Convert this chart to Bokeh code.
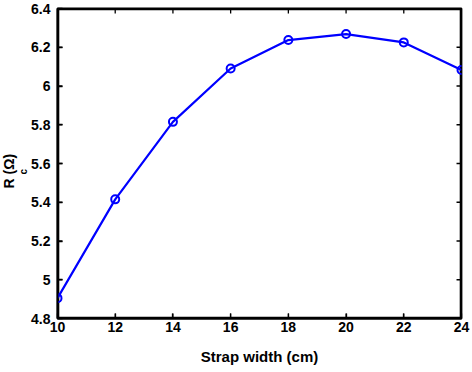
import math
from bokeh.plotting import figure
from bokeh.models import DataRange1d, LinearAxis, FixedTicker, Title
from bokeh.embed import file_html
from bokeh.resources import INLINE

# ---- data ----
strap_width = [10, 12, 14, 16, 18, 20, 22, 24]
rc_ohm = [4.905, 5.415, 5.815, 6.09, 6.237, 6.268, 6.225, 6.083]
x_ticks = [10, 12, 14, 16, 18, 20, 22, 24]
y_ticks = [4.8, 5.0, 5.2, 5.4, 5.6, 5.8, 6.0, 6.2, 6.4]
y_tick_labels = ["4.8", "5", "5.2", "5.4", "5.6", "5.8", "6", "6.2", "6.4"]
x_label = "Strap width (cm)"
y_label_main = "R   (Ω)"
y_label_sub = "c"

X_MIN, X_MAX = 10, 24
Y_MIN, Y_MAX = 4.8, 6.4

FONT = "Liberation Sans"
BLUE = "#0000ff"

W, H = 470, 370
B_LEFT, B_RIGHT, B_TOP, B_BOTTOM = 55, 9, 8, 52
FRAME_W = W - B_LEFT - B_RIGHT
FRAME_H = H - B_TOP - B_BOTTOM
TICK_PX = 5

p = figure(width=W, height=H,
           min_border_left=B_LEFT, min_border_right=B_RIGHT,
           min_border_top=B_TOP, min_border_bottom=B_BOTTOM,
           x_range=DataRange1d(start=X_MIN, end=X_MAX, range_padding=0),
           y_range=DataRange1d(start=Y_MIN, end=Y_MAX, range_padding=0),
           output_backend="svg", toolbar_location=None,
           x_axis_location=None, y_axis_location=None)
p.grid.visible = False
p.outline_line_color = "black"
p.outline_line_width = 1.8
p.border_fill_color = "white"


def style_axis(ax):
    ax.axis_line_color = "black"
    ax.axis_line_width = 1.8
    ax.major_tick_line_color = "black"
    ax.major_tick_line_width = 1.3
    ax.major_tick_in = TICK_PX
    ax.major_tick_out = 0
    ax.minor_tick_line_color = None
    ax.major_label_text_font = FONT
    ax.major_label_text_font_style = "bold"
    ax.major_label_text_color = "black"
    ax.major_label_text_font_size = "14px"


xb = LinearAxis(ticker=FixedTicker(ticks=x_ticks), axis_label=x_label)
style_axis(xb)
xb.major_label_standoff = 3
xb.axis_label_standoff = 13
xb.axis_label_text_font = FONT
xb.axis_label_text_font_style = "bold"
xb.axis_label_text_font_size = "15px"
xb.axis_label_text_color = "black"
p.add_layout(xb, "below")

yl = LinearAxis(ticker=FixedTicker(ticks=y_ticks),
                major_label_overrides={v: s for v, s in zip(y_ticks, y_tick_labels)})
style_axis(yl)
yl.major_label_standoff = 7
p.add_layout(yl, "left")

# y axis label: subscript "c" in its own column next to the axis, then "R (Ω)"
p.add_layout(Title(text=y_label_sub, align="left", offset=144, standoff=0,
                   text_font=FONT, text_font_style="bold", text_font_size="10px",
                   text_color="black"), "left")
p.add_layout(Title(text=y_label_main, align="left", offset=130, standoff=-3,
                   text_font=FONT, text_font_style="bold", text_font_size="14px",
                   text_color="black"), "left")

# box around the frame drawn as a glyph (half of the stroke is clipped by the frame)
p.quad(left=[X_MIN], right=[X_MAX], bottom=[Y_MIN], top=[Y_MAX],
       fill_color=None, line_color="black", line_width=3.6)

# inward tick marks on all four sides, TICK_PX long
dx = TICK_PX * (X_MAX - X_MIN) / FRAME_W
dy = TICK_PX * (Y_MAX - Y_MIN) / FRAME_H
nx, ny = len(x_ticks), len(y_ticks)
p.segment(x0=x_ticks, y0=[Y_MIN] * nx, x1=x_ticks, y1=[Y_MIN + dy] * nx,
          line_color="black", line_width=1.3)
p.segment(x0=x_ticks, y0=[Y_MAX] * nx, x1=x_ticks, y1=[Y_MAX - dy] * nx,
          line_color="black", line_width=1.3)
p.segment(x0=[X_MIN] * ny, y0=y_ticks, x1=[X_MIN + dx] * ny, y1=y_ticks,
          line_color="black", line_width=1.3)
p.segment(x0=[X_MAX] * ny, y0=y_ticks, x1=[X_MAX - dx] * ny, y1=y_ticks,
          line_color="black", line_width=1.3)

p.line(strap_width, rc_ohm, line_color=BLUE, line_width=2.2)
p.scatter(strap_width, rc_ohm, marker="circle", size=8, fill_color=None,
          line_color=BLUE, line_width=2)

open("out.html", "w").write(file_html(p, INLINE))
